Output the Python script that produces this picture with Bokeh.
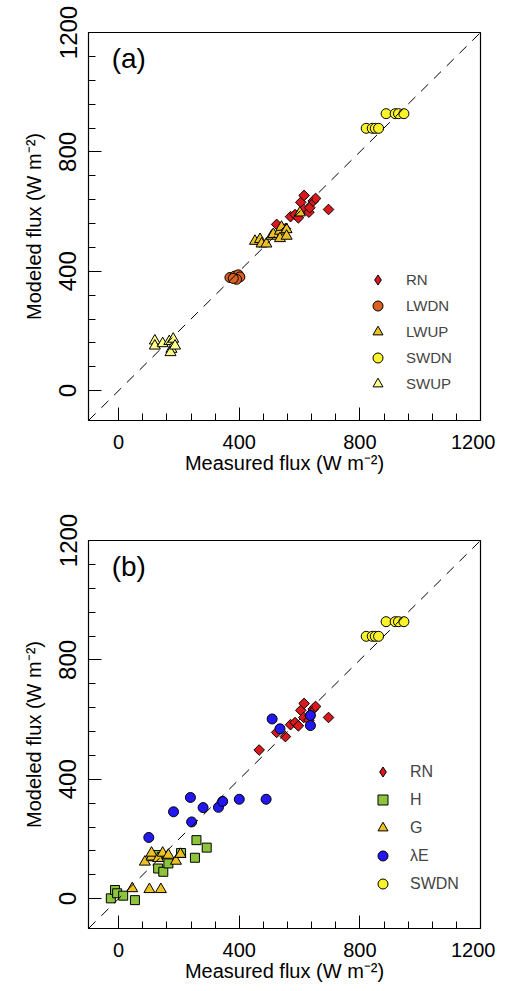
import math
from bokeh.plotting import figure
from bokeh.models import Range1d, Slope, Label, Legend, LegendItem, FixedTicker
from bokeh.layouts import column
from bokeh.embed import file_html
from bokeh.resources import INLINE

# ---------------- data ----------------
rn_x = [466, 524, 553, 570, 585, 596, 604, 615, 614, 631, 634, 645, 653, 696]
rn_y = [498, 557, 543, 583, 590, 579, 631, 654, 607, 598, 613, 635, 644, 607]

lwdn_x = [369, 385, 397, 402, 391, 380]
lwdn_y = [379, 384, 388, 381, 373, 376]

lwup_x = [452, 469, 474, 490, 507, 513, 535, 540, 557, 535, 557, 601]
lwup_y = [501, 507, 492, 492, 518, 524, 535, 548, 540, 510, 518, 596]

swdn_x = [821, 841, 851, 862, 887, 917, 928, 946]
swdn_y = [879, 879, 879, 879, 928, 928, 928, 928]

swup_x = [120, 120, 146, 168, 181, 175, 172, 187]
swup_y = [167, 150, 158, 165, 173, 139, 128, 150]

h_x = [-26, -12, -5, 15, 54, 115, 131, 131, 148, 165, 207, 253, 258, 292]
h_y = [1, 29, 18, 10, -5, 142, 146, 101, 90, 118, 153, 137, 196, 171]

g_x = [45, 87, 102, 109, 109, 131, 140, 146, 165, 190, 205]
g_y = [34, 123, 31, 140, 153, 135, 31, 153, 146, 126, 149]

le_x = [100, 182, 238, 242, 280, 331, 345, 400, 489, 509, 535, 636, 636]
le_y = [205, 291, 339, 257, 305, 306, 326, 333, 333, 602, 569, 614, 580]

major_ticks = [0, 400, 800, 1200]
minor_ticks = [80, 160, 240, 320, 480, 560, 640, 720, 880, 960, 1040, 1120]
axis_min, axis_max = -100, 1200

FONT = "Liberation Sans"

C_RN = "#D9191C"
C_LWDN = "#DC6020"
C_YEL = "#EBC124"
C_SWDN = "#FAF22A"
C_SWUP = "#FFFF8A"
C_H = "#8DC43C"
C_LE = "#2418F2"


def base_fig(top_border, bottom_border, tag):
    p = figure(frame_width=392, frame_height=388, output_backend="svg",
               toolbar_location=None,
               x_range=Range1d(axis_min, axis_max), y_range=Range1d(axis_min, axis_max),
               min_border_left=88, min_border_right=15,
               min_border_top=top_border, min_border_bottom=bottom_border)
    p.xgrid.visible = False
    p.ygrid.visible = False
    p.outline_line_color = "black"
    p.outline_line_width = 1.2
    for ax in (p.xaxis[0], p.yaxis[0]):
        ax.ticker = FixedTicker(ticks=major_ticks, minor_ticks=minor_ticks)
        ax.major_tick_in = 13
        ax.major_tick_out = 0
        ax.minor_tick_in = 7
        ax.minor_tick_out = 0
        ax.axis_line_color = "black"
        ax.major_tick_line_color = "black"
        ax.minor_tick_line_color = "black"
        ax.major_label_text_font = FONT
        ax.major_label_text_color = "black"
        ax.axis_label_text_font = FONT
        ax.axis_label_text_font_size = "20px"
        ax.axis_label_text_font_style = "normal"
        ax.axis_label_text_color = "black"
    p.xaxis[0].major_label_text_font_size = "20px"
    p.xaxis[0].major_label_standoff = 14
    p.xaxis[0].axis_label = "Measured flux (W m\u207B\u00B2)"
    p.xaxis[0].axis_label_standoff = 0
    p.yaxis[0].major_label_text_font_size = "24px"
    p.yaxis[0].major_label_orientation = "vertical"
    p.yaxis[0].major_label_standoff = 12
    p.yaxis[0].axis_label = "Modeled flux (W m\u207B\u00B2)"
    p.yaxis[0].axis_label_standoff = 12
    p.add_layout(Slope(gradient=1, y_intercept=0, line_color="black",
                       line_width=1, line_dash="10 8"))
    p.add_layout(Label(x=-23, y=1114, text=tag, text_font=FONT,
                       text_font_size="28px", text_align="left",
                       text_baseline="middle", text_color="black"))
    return p


def pts(p, xs, ys, marker, color, size, angle=0.0, visible=True):
    return p.scatter(xs, ys, marker=marker, size=size, fill_color=color,
                     line_color="black", line_width=1, angle=angle,
                     visible=visible)


def make_legend(items, loc, spacing, standoff, fsize):
    return Legend(items=[LegendItem(label=l, renderers=[r]) for l, r in items],
                  location=loc, glyph_width=25, glyph_height=25,
                  label_height=25, spacing=spacing, label_standoff=standoff,
                  padding=0, margin=0, border_line_alpha=0,
                  background_fill_alpha=0, inactive_fill_alpha=0,
                  label_text_font=FONT, label_text_font_size=fsize)


# ---------------- panel (a) ----------------
pa = base_fig(32, 88, "(a)")
pts(pa, rn_x, rn_y, "square", C_RN, 7.5, math.pi / 4)
r1 = pts(pa, rn_x, rn_y, "diamond", C_RN, 12, visible=False)
r2 = pts(pa, lwdn_x, lwdn_y, "circle", C_LWDN, 10)
r3 = pts(pa, lwup_x, lwup_y, "triangle", C_YEL, 11)
r4 = pts(pa, swdn_x, swdn_y, "circle", C_SWDN, 10)
r5 = pts(pa, swup_x, swup_y, "triangle", C_SWUP, 11)
pa.add_layout(make_legend([("RN", r1), ("LWDN", r2), ("LWUP", r3),
                           ("SWDN", r4), ("SWUP", r5)],
                          (277, 24), 1, 16, "15px"))

# ---------------- panel (b) ----------------
pb = base_fig(32, 10, "(b)")
pts(pb, rn_x, rn_y, "square", C_RN, 7.5, math.pi / 4)
s1 = pts(pb, rn_x, rn_y, "diamond", C_RN, 12, visible=False)
s2 = pts(pb, h_x, h_y, "square", C_H, 9)
s3 = pts(pb, g_x, g_y, "triangle", C_YEL, 11)
s4 = pts(pb, le_x, le_y, "circle", C_LE, 10)
s5 = pts(pb, swdn_x, swdn_y, "circle", C_SWDN, 10)
pb.add_layout(make_legend([("RN", s1), ("H", s2), ("G", s3),
                           ("\u03BBE", s4), ("SWDN", s5)],
                          (282, 32), 3, 15, "16px"))

layout = column(pa, pb, spacing=0)
open("out.html", "w").write(file_html(layout, INLINE))
